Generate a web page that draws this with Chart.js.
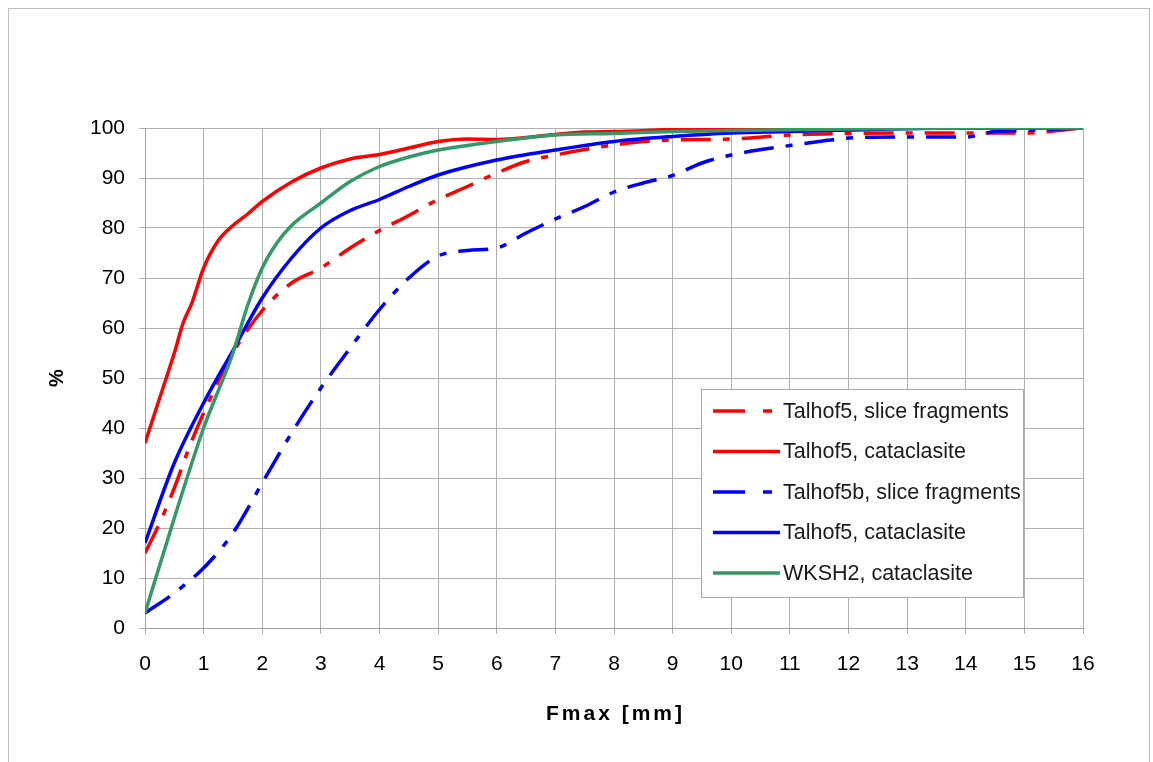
<!DOCTYPE html>
<html>
<head>
<meta charset="utf-8">
<script src="https://cdn.jsdelivr.net/npm/chart.js@4"></script>
<style>
html,body{margin:0;padding:0;background:#fff;overflow:hidden;}
#frame{position:absolute;left:8px;top:8px;width:1142px;height:800px;border:1px solid #bdbdbd;box-sizing:border-box;}
#wrap{position:absolute;left:0;top:0;width:1153px;height:762px;}
</style>
</head>
<body>
<div id="frame"></div>
<div id="wrap"><canvas id="chart"></canvas></div>
<script>
// series names (legend order)
const names = ['Talhof5, slice fragments','Talhof5, cataclasite','Talhof5b, slice fragments','Talhof5, cataclasite','WKSH2, cataclasite'];

// Talhof5, slice fragments (red dashed)
const xT5Slice = [0,0.25,0.5,0.75,1,1.5,2,2.5,3,3.5,4,4.5,5,5.5,6,6.5,7,7.5,8,8.5,9,10,11,12,13,14,15,16];
const yT5Slice = [15,21,28,36,43,55,63.5,69,72,76,79.5,82.5,85.7,88.3,91,93.3,94.6,95.7,96.6,97.3,97.6,97.8,98.6,98.9,99,99,99,100];

// Talhof5, cataclasite (red)
const xT5Cata = [0,0.25,0.5,0.65,0.8,1,1.25,1.5,1.75,2,2.5,3,3.5,4,4.5,5,5.5,6,7,7.5,8,9,10,12,14,16];
const yT5Cata = [37,46,55,61,65,72,77.5,80.5,82.8,85.3,89.2,92,93.8,94.7,96,97.3,97.8,97.7,98.7,99.2,99.3,99.7,100,100,100,100];

// Talhof5b, slice fragments (blue dashed)
const xT5bSlice = [0,0.5,1,1.5,2,2.5,3,3.5,4,4.5,5,5.5,6,6.5,7,7.5,8,8.5,9,9.5,10,11,11.5,12,13,14,14.5,15,16];
const yT5bSlice = [3,7,12,19,29,39,48,56,63.7,70,74.4,75.5,76,79,81.8,84.3,87.2,89,90.5,93,94.6,96.5,97.3,98,98.2,98.2,99.3,99.5,100];

// Talhof5, cataclasite (blue)
const xT5Cata2 = [0,0.5,1,1.5,2,2.5,3,3.5,4,4.5,5,6,7,8,9,10,11,12,14,16];
const yT5Cata2 = [17,33,45,55.5,66,74,80,83.5,85.7,88.3,90.6,93.6,95.6,97.3,98.3,99,99.3,99.6,100,100];

// WKSH2, cataclasite (green)
const xWKSH2 = [0,0.5,1,1.5,1.75,2,2.25,2.5,3,3.5,4,4.5,5,5.5,6,7,8,9,10,12,14,16];
const yWKSH2 = [3,22,40,55,64.5,72,77,80.5,85,89.3,92.3,94.2,95.6,96.5,97.3,98.6,98.9,99.3,99.5,99.8,100,100];

const FONT = "'Liberation Sans', Arial, sans-serif";
const dashDot = [30,12,7,12];
const legendDash = [32,18,9,40];

function pts(xs, ys){ return xs.map((x,i) => ({x:x, y:ys[i]})); }
function series(i, xs, ys, color, dash, order){
  return {
    label: names[i], data: pts(xs, ys), borderColor: color, backgroundColor: color,
    borderWidth: 3.5, borderDash: dash, pointRadius: 0, fill: false,
    cubicInterpolationMode: 'monotone', order: order
  };
}

const legendBox = {
  id: 'legendBox',
  afterDraw(chart){
    const ctx = chart.ctx;
    ctx.save();
    ctx.fillStyle = '#fff';
    ctx.strokeStyle = '#a8a8a8';
    ctx.lineWidth = 1;
    ctx.fillRect(701, 389, 322, 208);
    ctx.strokeRect(701.5, 389.5, 322, 208);
    chart.data.datasets.forEach((ds, i) => {
      const y = 411 + i * 40.5;
      ctx.strokeStyle = ds.borderColor;
      ctx.lineWidth = 3.5;
      ctx.setLineDash(ds.borderDash.length ? legendDash : []);
      ctx.beginPath();
      ctx.moveTo(713, y);
      ctx.lineTo(780, y);
      ctx.stroke();
      ctx.setLineDash([]);
      ctx.fillStyle = '#1a1a1a';
      ctx.font = "21.5px " + FONT;
      ctx.textBaseline = 'middle';
      ctx.textAlign = 'left';
      ctx.fillText(ds.label, 783, y + 1);
    });
    // x axis title
    ctx.fillStyle = '#000';
    ctx.font = "bold 21px " + FONT;
    ctx.letterSpacing = '3px';
    ctx.textAlign = 'center';
    ctx.textBaseline = 'middle';
    const a = chart.chartArea;
    ctx.fillText('Fmax [mm]', (a.left + a.right) / 2 + 1.5, 714);
    ctx.restore();
  }
};

new Chart(document.getElementById('chart'), {
  type: 'line',
  data: {
    datasets: [
      series(0, xT5Slice, yT5Slice, '#ff0000', dashDot, 5),
      series(1, xT5Cata, yT5Cata, '#ff0000', [], 4),
      series(2, xT5bSlice, yT5bSlice, '#0000ff', dashDot, 3),
      series(3, xT5Cata2, yT5Cata2, '#0000ff', [], 2),
      series(4, xWKSH2, yWKSH2, '#339966', [], 1)
    ]
  },
  options: {
    responsive: true,
    maintainAspectRatio: false,
    animation: false,
    layout: {padding: {left: 0, top: 128, right: 70, bottom: 0}},
    plugins: {legend: {display: false}, tooltip: {enabled: false}},
    scales: {
      x: {
        type: 'linear', min: 0, max: 16,
        ticks: {stepSize: 1, color: '#000', font: {family: FONT, size: 21}, padding: 18, maxRotation: 0},
        grid: {color: '#b0b0b0', tickLength: 6, lineWidth: 1},
        border: {color: '#a0a0a0'},
        afterFit: s => { s.height = 134; }
      },
      y: {
        min: 0, max: 100,
        ticks: {stepSize: 10, color: '#000', font: {family: FONT, size: 21}, padding: 14},
        grid: {color: '#b0b0b0', tickLength: 6, lineWidth: 1},
        border: {color: '#a0a0a0'},
        title: {display: true, text: '%', color: '#000', font: {family: FONT, size: 20, weight: 'bold'}, padding: {top: 45, bottom: 0}},
        afterFit: s => { s.width = 145; }
      }
    }
  },
  plugins: [legendBox]
});
</script>
</body>
</html>
